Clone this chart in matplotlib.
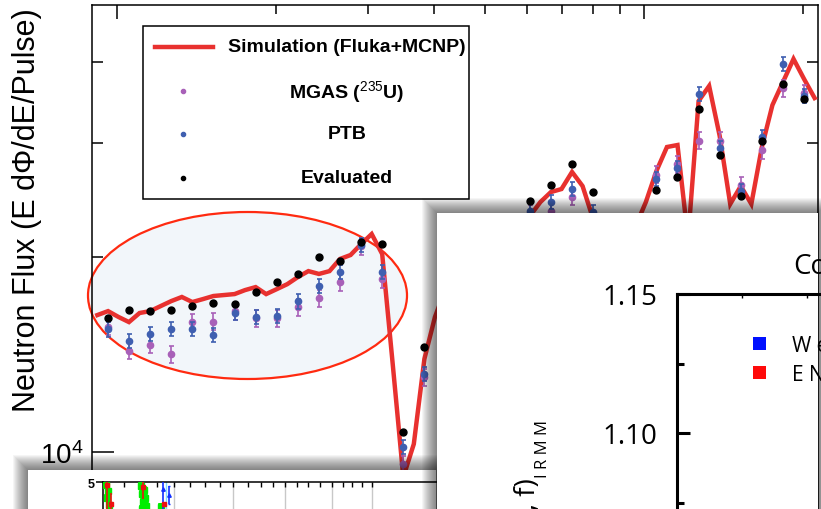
import numpy as np
import matplotlib.pyplot as plt
from matplotlib.patches import Rectangle, Ellipse
from matplotlib.lines import Line2D
from matplotlib.ticker import FixedLocator, NullFormatter, FixedFormatter

plt.rcParams['font.family'] = ['Liberation Sans', 'DejaVu Sans']
plt.rcParams['mathtext.fontset'] = 'custom'
plt.rcParams['mathtext.rm'] = 'Liberation Sans'
plt.rcParams['mathtext.it'] = 'Liberation Sans:italic'
plt.rcParams['mathtext.bf'] = 'Liberation Sans:bold'

# ---- main panel: neutron flux vs neutron energy (keV) ----
point_energy = [96.2, 105.4, 115.6, 126.8, 139.0, 152.4, 167.2, 183.3, 201.0, 220.4,
                241.7, 265.0, 290.6, 318.6, 349.4, 383.1, 420.1, 460.6, 505.1, 553.8,
                607.3, 665.9, 730.2, 800.7, 878.0, 962.7, 1055.6, 1157.5, 1269.3, 1391.8,
                1526.2, 1673.5, 1835.0, 2012.1]
evaluated = [16130, 16560, 16500, 16580, 16820, 16980, 16920, 17660, 18270, 18830,
             19980, 19740, 21110, 20940, 10720, 14550, 17220, 19160, 20570, 22480,
             24370, 25850, 27830, 25160, 19710, 20940, 25400, 26540, 33830, 28730,
             24800, 30230, 36980, 35060]
ptb = [15460, 14820, 15210, 15470, 15480, 15150, 16370, 16160, 16200, 17080,
       18050, 18940, 20870, 18980, 10190, 13200, 16330, 18160, 19710, 21700,
       23570, 24340, 25460, 23460, 18830, 20210, 26380, 27410, 35680, 29420,
       25310, 30600, 39700, 35390]
mgas = [15620, 14330, 14640, 14160, 15850, 15890, 16490, 16100, 16080, 16720,
        17280, 18270, 20770, 18490, 9580, 13050, 16070, 17840, 19300, 21320,
        23380, 23570, 24770, 22890, 18620, 20000, 26790, 27830, 30230, 30230,
        25820, 29240, 36420, 35810]
eval_rel_err = 0.006
ptb_rel_err = 0.025
mgas_rel_err = 0.03

sim_energy = [91.8, 96.2, 100.7, 105.4, 110.4, 115.6, 121.1, 126.8, 132.8, 139.0,
              145.6, 152.4, 159.6, 167.2, 175.0, 183.3, 191.9, 201.0, 210.5, 220.4,
              230.8, 241.7, 253.1, 265.0, 277.5, 290.6, 304.3, 318.6, 333.6, 349.4,
              365.8, 383.1, 401.2, 420.1, 439.9, 460.6, 482.3, 505.1, 528.9, 553.8,
              579.9, 607.3, 635.9, 665.9, 697.3, 730.2, 764.6, 800.7, 838.4, 878.0,
              919.4, 962.7, 1008.1, 1055.6, 1105.4, 1157.5, 1212.1, 1269.3, 1329.1, 1391.8,
              1457.4, 1526.2, 1598.1, 1673.5, 1752.4, 1835.0, 1921.5, 2012.1, 2107.0]
sim_flux = [16270, 16500, 16160, 15870, 16390, 16500, 16800, 17100, 17350, 17040,
            17220, 17410, 17470, 17530, 17780, 17970, 17530, 17840, 18160, 18620,
            19020, 18830, 19020, 19860, 20140, 20940, 21700, 20210, 13670, 9150,
            10290, 13920, 16160, 17840, 19160, 20210, 20940, 21470, 21930, 22400,
            22890, 23130, 24310, 25190, 25460, 27050, 25730, 22890, 20000, 19300,
            20570, 22250, 24310, 27140, 29560, 29770, 21320, 34810, 36720, 30740,
            24140, 25730, 24140, 29560, 34310, 37240, 40420, 37640, 35180]

legend_labels = ['Simulation (Fluka+MCNP)', r'MGAS ($^{235}$U)', 'PTB', 'Evaluated']

# ---- bottom-left snippet ----
green_x = [3, 5, 4, 6, 38, 41, 39, 42, 40, 43, 39, 58]
green_y = [4.96, 4.87, 4.78, 4.68, 4.95, 4.89, 4.84, 4.78, 4.73, 4.67, 4.63, 4.66]
red_x = [4, 8, 40, 61]
red_y = [4.96, 4.70, 4.93, 4.69]
red_err = [0.40, 0.15, 0.16, 0.03]
blue_x = [60, 66]
blue_y = [4.90, 4.82]
blue_err = [0.30, 0.12]
snip_grid = [71, 130, 182, 229, 269]
snip_minor = [21, 38, 54, 87, 102, 117, 145, 158, 170, 194, 205, 217, 240, 249, 259]

# ---- right overlay panel ----
ratio_ticks = [1.10, 1.15]
ratio_minor = [1.075, 1.125]
overlay_legend = ['W e i g h t e d   a v e r a g e', 'E N D F / B - V I I . 1']

W, H = 821, 510
fig = plt.figure(figsize=(W / 100, H / 100), dpi=100)


def fx(px):
    return px / W


def fy(py):
    return 1 - py / H


def shadow(x0, y0, x1, y1, z, n=15, a=0.04):
    for k in range(1, n + 1):
        fig.add_artist(Rectangle((fx(x0 - k), fy(y1 + k)), (x1 - x0 + 2 * k) / W,
                                 (y1 - y0 + 2 * k) / H, transform=fig.transFigure,
                                 facecolor='k', edgecolor='none', alpha=a, zorder=z))
    fig.add_artist(Rectangle((fx(x0), fy(y1)), (x1 - x0) / W, (y1 - y0) / H,
                             transform=fig.transFigure, facecolor='white',
                             edgecolor='none', zorder=z + 0.05))


# main axes
ax = fig.add_axes([fx(92), fy(560), (818 - 92) / W, (560 - 6) / H])
ax.set_zorder(0)
c_red = '#e8312f'
c_blue = '#3f5fb0'
c_purple = '#a860b8'

ell = Ellipse((fx(247.5), fy(296.5)), 319 / W, 167 / H, transform=fig.transFigure,
              facecolor='#f2f6fa', edgecolor='#ff2a10', lw=1.6, zorder=1, clip_on=False)
ax.add_artist(ell)

ax.plot(sim_energy, sim_flux, color=c_red, lw=3.2, zorder=3, solid_joinstyle='miter')
mg = np.array(mgas)
pt = np.array(ptb)
ev = np.array(evaluated)
ax.errorbar(point_energy, mg, yerr=mg * mgas_rel_err, fmt='o', color=c_purple, ms=4.5,
            capsize=1.8, elinewidth=1.2, capthick=1.2, zorder=4)
ax.errorbar(point_energy, pt, yerr=pt * ptb_rel_err, fmt='o', color=c_blue, ms=4.5,
            capsize=1.8, elinewidth=1.2, capthick=1.2, zorder=5)
ax.errorbar(point_energy, ev, yerr=ev * eval_rel_err, fmt='o', color='black', ms=5,
            capsize=1.5, elinewidth=1.2, capthick=1.2, zorder=6)

ax.set_xscale('log')
ax.set_yscale('log')
ax.set_xlim(89.68, 2138.4)
ax.set_ylim(6839, 48960)
ax.yaxis.set_major_locator(FixedLocator([1e4]))
ax.yaxis.set_major_formatter(FixedFormatter([r'$10^4$']))
ax.yaxis.set_minor_locator(FixedLocator([6e3, 7e3, 8e3, 9e3, 2e4, 3e4, 4e4]))
ax.yaxis.set_minor_formatter(NullFormatter())
ax.xaxis.set_major_locator(FixedLocator([100, 1000]))
ax.xaxis.set_minor_locator(FixedLocator([200, 300, 400, 500, 600, 700, 800, 900, 2000]))
ax.xaxis.set_major_formatter(NullFormatter())
ax.xaxis.set_minor_formatter(NullFormatter())
ax.tick_params(which='both', direction='in', top=True, right=True, labelbottom=False)
ax.tick_params(axis='y', which='major', length=16, width=1.1, labelsize=20, pad=6)
ax.tick_params(axis='y', which='minor', length=8, width=1.1)
ax.tick_params(axis='x', which='major', length=10, width=1.1)
ax.tick_params(axis='x', which='minor', length=6.5, width=1.1)
for s in ax.spines.values():
    s.set_linewidth(1.1)

fig.text(fx(27), fy(210), 'Neutron Flux (E d\u03a6/dE/Pulse)', rotation=90,
         ha='center', va='center', fontsize=22)

# legend box
fig.add_artist(Rectangle((fx(143), fy(200)), (469 - 143) / W, (200 - 27) / H,
                         transform=fig.transFigure, facecolor='white', edgecolor='black',
                         lw=1.1, zorder=0.5))
fig.add_artist(Line2D([fx(155), fx(213)], [fy(48), fy(48)], color=c_red, lw=3.2,
                      transform=fig.transFigure, zorder=0.6))
for yy, col in zip([92, 135, 179], [c_purple, c_blue, 'black']):
    fig.add_artist(Line2D([fx(183)], [fy(yy)], marker='o', ms=3, color=col, lw=0,
                          transform=fig.transFigure, zorder=0.6))
for yy, lab in zip([48, 92, 135, 179], legend_labels):
    fig.text(fx(347), fy(yy), lab, ha='center', va='center', fontsize=14,
             fontweight='bold', zorder=0.6)

# bottom-left snippet
shadow(28, 471, 436, 540, z=1)
ax2 = fig.add_axes([fx(103), fy(700), (480 - 103) / W, (700 - 483) / H])
ax2.set_zorder(1.2)
ax2.set_facecolor('none')
ax2.errorbar(green_x, green_y, yerr=0.05, fmt='s', color='#00ee00', ms=4.5,
             elinewidth=4, capsize=0, zorder=3)
ax2.errorbar(red_x, red_y, yerr=red_err, fmt='s', color='#ee1111', ms=2.5,
             elinewidth=1.2, capsize=0, zorder=4)
ax2.errorbar(blue_x, blue_y, yerr=blue_err, fmt='^', color='#1030ff', ms=2.5,
             elinewidth=1.2, capsize=1, zorder=4)
ax2.plot([63, 63], [4.4, 5.2], color='#80dcff', lw=1, zorder=2)
ax2.set_xlim(0, 377)
ax2.set_ylim(2, 5)
ax2.xaxis.tick_top()
ax2.xaxis.set_major_locator(FixedLocator(snip_grid))
ax2.xaxis.set_minor_locator(FixedLocator(snip_minor))
ax2.xaxis.set_major_formatter(NullFormatter())
ax2.grid(axis='x', which='major', color='#c8c8c8', lw=1)
ax2.tick_params(axis='x', which='both', direction='in', length=3.5, width=1, labeltop=False)
ax2.set_yticks([5])
ax2.set_yticklabels(['5'], fontsize=9, fontweight='bold')
ax2.tick_params(axis='y', direction='out', length=5, width=1.1, pad=1)
ax2.spines['right'].set_visible(False)
ax2.spines['bottom'].set_visible(False)
for s in ['top', 'left']:
    ax2.spines[s].set_linewidth(1.1)

# right overlay panel
shadow(437, 214, 818, 540, z=2)
ax3 = fig.add_axes([fx(677), fy(712), (1000 - 677) / W, (712 - 295) / H])
ax3.set_zorder(2.2)
ax3.set_facecolor('none')
ax3.set_ylim(1.0, 1.15)
ax3.set_xlim(0, 323)
ax3.yaxis.set_major_locator(FixedLocator(ratio_ticks))
ax3.yaxis.set_minor_locator(FixedLocator(ratio_minor))
ax3.yaxis.set_major_formatter(FixedFormatter([f'{v:.2f}' for v in ratio_ticks]))
ax3.xaxis.tick_top()
ax3.xaxis.set_major_locator(FixedLocator([65, 130]))
ax3.xaxis.set_major_formatter(NullFormatter())
ax3.tick_params(axis='x', direction='in', length=3, width=1, labeltop=False)
ax3.tick_params(axis='y', which='major', direction='in', length=9.5, width=2.2, pad=14)
ax3.tick_params(axis='y', which='minor', direction='in', length=5, width=2.2)
for lab in ax3.get_yticklabels():
    lab.set_family(['Open Sans', 'DejaVu Sans'])
    lab.set_fontsize(20)
ax3.spines['right'].set_visible(False)
ax3.spines['bottom'].set_visible(False)
for s in ['top', 'left']:
    ax3.spines[s].set_linewidth(2.2)

fig.text(fx(793), fy(274), 'Comparison', fontsize=20, family=['Open Sans', 'DejaVu Sans'],
         ha='left', va='baseline', zorder=2.3)
fig.text(fx(535), fy(478), '\u03c3(n, f) / \u03c3(n, f)', rotation=90, rotation_mode='anchor',
         ha='right', va='baseline', fontsize=20, family=['Open Sans', 'DejaVu Sans'], zorder=2.3)
fig.text(fx(547), fy(478), 'I R M M', rotation=90, rotation_mode='anchor',
         ha='left', va='baseline', fontsize=12, family=['Open Sans', 'DejaVu Sans'], zorder=2.3)
for yy, col, lab in zip([344, 373], ['#0010ff', '#ff0a0a'], overlay_legend):
    fig.add_artist(Rectangle((fx(752.5), fy(yy + 6.5)), 13 / W, 13 / H,
                             transform=fig.transFigure, facecolor=col, edgecolor='none',
                             zorder=2.3))
    fig.text(fx(792), fy(yy + 8), lab, fontsize=15, family=['Open Sans', 'DejaVu Sans'],
             ha='left', va='baseline', zorder=2.3)

fig.savefig('out.png', dpi=100)
